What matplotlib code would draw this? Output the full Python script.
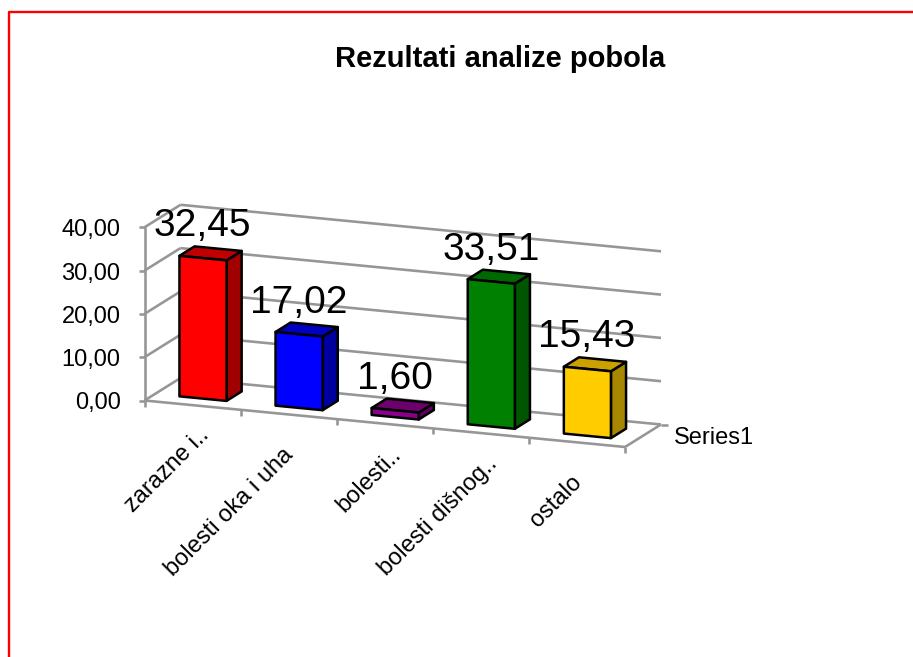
import matplotlib
matplotlib.use("Agg")
import matplotlib.pyplot as plt
from matplotlib.patches import Polygon

plt.rcParams['font.family'] = ['Liberation Sans', 'DejaVu Sans']

title = "Rezultati analize pobola"
categories = ["zarazne i..", "bolesti oka i uha", "bolesti..", "bolesti dišnog..", "ostalo"]
values = [32.45, 17.02, 1.60, 33.51, 15.43]
value_labels = ["32,45", "17,02", "1,60", "33,51", "15,43"]
ticks = [0, 10, 20, 30, 40]
tick_labels = ["0,00", "10,00", "20,00", "30,00", "40,00"]
series_name = "Series1"
front_colors = ["#FF0000", "#0000FF", "#8B008B", "#008000", "#FFCC00"]
side_colors = ["#A00000", "#0000A0", "#5E005E", "#005500", "#A88700"]
top_colors = ["#C00000", "#0000C0", "#6C006C", "#006800", "#CCA000"]

GRID = "#969696"
fig = plt.figure(figsize=(9.13, 6.57), dpi=100, facecolor="white")
ax = fig.add_axes([0, 0, 1, 1])
ax.set_xlim(0, 913)
ax.set_ylim(657, 0)
ax.axis("off")


def proj(u, w, v):
    """Oblique 3D projection: category u, depth w (0-1), value v."""
    return (144.5 + 96.1 * u + 36.0 * w,
            400.5 + 9.3 * u - 22.5 * w - 4.33 * v)


def seg(a, b, px=2.6, color=GRID, z=1):
    ax.plot([a[0], b[0]], [a[1], b[1]], color=color, lw=px * 0.72,
            solid_capstyle="butt", zorder=z)


# page frame
ax.plot([8.5, 8.5, 913], [657, 11.5, 11.5], color="#FF0000", lw=1.7, zorder=0)

n = len(categories)
# walls and value axis
for t, lab in zip(ticks, tick_labels):
    seg(proj(0, 0, t), proj(0, 1, t))
    seg(proj(0, 1, t), proj(n, 1, t))
    p = proj(0, 0, t)
    seg((p[0] - 6, p[1]), p)
    ax.text(p[0] - 24, p[1] + 3, lab, ha="right", va="center",
            fontsize=17, color="black", zorder=6)
seg(proj(0, 0, 0), proj(0, 0, ticks[-1]))

# floor
seg(proj(0, 0, 0), proj(n, 0, 0))
seg(proj(n, 0, 0), proj(n, 1, 0))
for i in range(n + 1):
    p = proj(i, 0, 0)
    seg(p, (p[0], p[1] + 6))
p = proj(n, 1, 0)
seg(p, (p[0] + 7, p[1]))
ax.text(p[0] + 13, p[1] + 13, series_name, ha="left", va="center", fontsize=17, zorder=6)

# bars
W0, W1 = 0.29, 0.71
BW = 0.255
for i, v in enumerate(values):
    u0, u1 = i + BW, i + 1 - BW
    front = [proj(u0, W0, 0), proj(u1, W0, 0), proj(u1, W0, v), proj(u0, W0, v)]
    side = [proj(u1, W0, 0), proj(u1, W1, 0), proj(u1, W1, v), proj(u1, W0, v)]
    top = [proj(u0, W0, v), proj(u1, W0, v), proj(u1, W1, v), proj(u0, W1, v)]
    for pts, c in ((side, side_colors[i]), (top, top_colors[i]), (front, front_colors[i])):
        ax.add_patch(Polygon(pts, closed=True, facecolor=c, edgecolor="black",
                             lw=1.8, joinstyle="round", zorder=3))
    c = proj(i + 0.5, 0.5, v)
    ax.text(c[0] - 8, c[1] - 27, value_labels[i], ha="center", va="center",
            fontsize=28, color="black", zorder=5)

# category labels
for i, lab in enumerate(categories):
    p = proj(i + 0.5, 0, 0)
    dx, dy = (13, 27) if lab.endswith("..") else (1, 37)
    ax.text(p[0] + dx, p[1] + dy, lab, rotation=45, rotation_mode="anchor",
            ha="right", va="center", fontsize=17, zorder=6)

ax.text(500, 59, title, ha="center", va="center", fontsize=21, fontweight="bold", zorder=6)

fig.savefig("out.png", dpi=100)
